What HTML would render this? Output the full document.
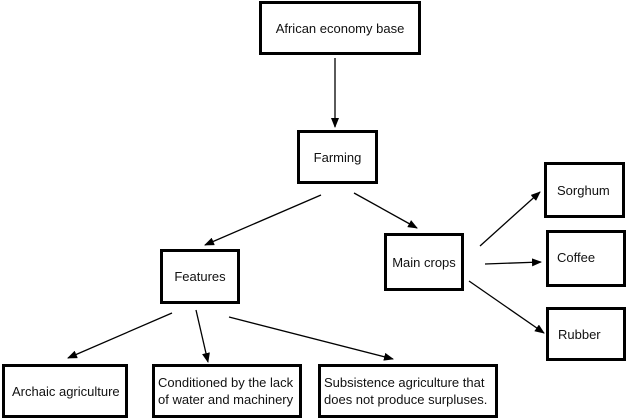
<!DOCTYPE html>
<html><head><style>
body{margin:0;background:#fff;width:626px;height:419px;overflow:hidden;position:relative;font-family:"Liberation Sans",sans-serif;}
.b{position:absolute;box-sizing:border-box;border:3px solid #000;display:flex;align-items:center;font-size:13px;color:#111;line-height:17px;}
</style></head><body>
<div class="b" style="left:259px;top:1px;width:162px;height:54px;justify-content:center">African economy base</div>
<div class="b" style="left:297px;top:130px;width:81px;height:54px;justify-content:center">Farming</div>
<div class="b" style="left:160px;top:249px;width:80px;height:55px;justify-content:center">Features</div>
<div class="b" style="left:384px;top:233px;width:80px;height:58px;justify-content:center">Main crops</div>
<div class="b" style="left:544px;top:162px;width:81px;height:56px;padding-left:10px">Sorghum</div>
<div class="b" style="left:546px;top:230px;width:80px;height:57px;padding-left:8px;align-items:flex-start;padding-top:16px">Coffee</div>
<div class="b" style="left:546px;top:307px;width:80px;height:54px;padding-left:9px">Rubber</div>
<div class="b" style="left:2px;top:364px;width:126px;height:54px;padding-left:7px">Archaic agriculture</div>
<div class="b" style="left:152px;top:364px;width:150px;height:54px;padding-left:3px">Conditioned by the lack<br>of water and machinery</div>
<div class="b" style="left:318px;top:364px;width:180px;height:54px;padding-left:3px">Subsistence agriculture that<br>does not produce surpluses.</div>
<svg width="626" height="419" style="position:absolute;left:0;top:0">
<defs><marker id="a" markerWidth="10" markerHeight="8" refX="9" refY="4" orient="auto" markerUnits="userSpaceOnUse"><path d="M0,0L10,4L0,8z" fill="#000"/></marker></defs>
<g stroke="#000" stroke-width="1.3" marker-end="url(#a)">
<line x1="335" y1="58" x2="335" y2="127"/>
<line x1="321" y1="195" x2="205" y2="245"/>
<line x1="354" y1="193" x2="417" y2="228"/>
<line x1="172" y1="313" x2="68" y2="358"/>
<line x1="196" y1="310" x2="208" y2="362"/>
<line x1="229" y1="317" x2="393" y2="359"/>
<line x1="480" y1="246" x2="540" y2="192"/>
<line x1="485" y1="264" x2="541" y2="262"/>
<line x1="469" y1="281" x2="544" y2="333"/>
</g></svg>
</body></html>
